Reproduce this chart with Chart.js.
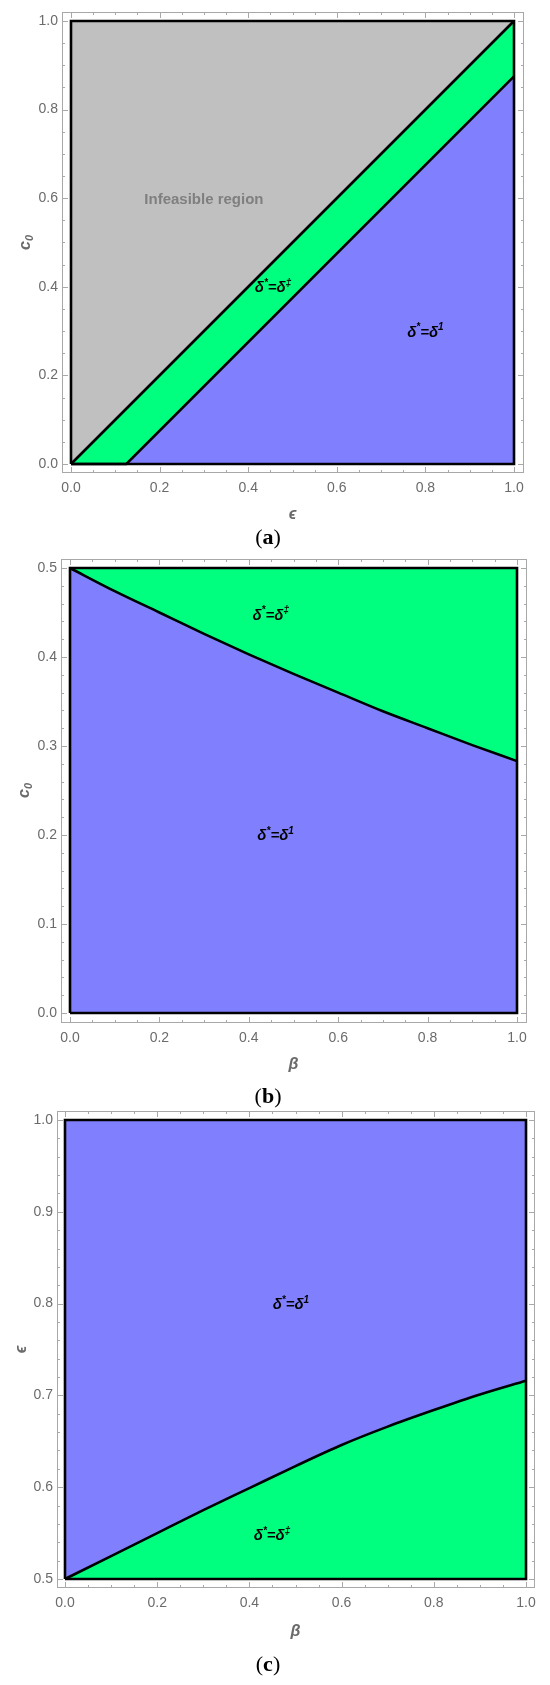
<!DOCTYPE html>
<html lang="en">
<head>
  <meta charset="UTF-8" />
  <title>Optimal delta regions</title>
  <script src="https://cdn.jsdelivr.net/npm/chart.js"></script>
  <style>
    body {
      margin: 0;
      background: #fff;
    }

    .page {
      position: relative;
      width: 550px;
      height: 1685px;
    }

    .page canvas {
      position: absolute;
      left: 0;
    }

    .caption {
      position: absolute;
      left: 168px;
      width: 200px;
      text-align: center;
      font-family: 'Liberation Serif', 'DejaVu Serif', serif;
      font-size: 22px;
      line-height: 24px;
      color: #000;
    }
  </style>
</head>
<body>
  <div class="page">
    <canvas id="chartA" width="550" height="530" style="top:0px"></canvas>
    <canvas id="chartB" width="550" height="540" style="top:545px"></canvas>
    <canvas id="chartC" width="550" height="560" style="top:1100px"></canvas>
    <div class="caption" style="top:525px">(<b>a</b>)</div>
    <div class="caption" style="top:1084px">(<b>b</b>)</div>
    <div class="caption" style="top:1652px">(<b>c</b>)</div>
  </div>

  <script>
    // (a) region boundaries in the (eps, c0) plane
    const aUpperEps = [0, 1];
    const aUpperC0 = [0, 1];
    const aLowerEps = [0, 0.125, 1];
    const aLowerC0 = [0, 0, 0.875];

    // (b) and (c) boundaries against beta
    const betaGrid = [0, 0.1, 0.2, 0.3, 0.4, 0.5, 0.6, 0.7, 0.8, 0.9, 1];
    const bBoundaryC0 = [0.5, 0.474, 0.450, 0.426, 0.403, 0.381, 0.360, 0.339, 0.320, 0.301, 0.283];
    const cBoundaryEps = [0.5, 0.525, 0.550, 0.575, 0.599, 0.623, 0.646, 0.666, 0.684, 0.701, 0.716];

    // tick labels
    const ticksUnit = [0, 0.2, 0.4, 0.6, 0.8, 1];
    const ticksBy = [0, 0.1, 0.2, 0.3, 0.4, 0.5];
    const ticksCy = [0.5, 0.6, 0.7, 0.8, 0.9, 1];

    // region labels
    const labelsA = [
      { text: 'Infeasible region', x: 0.30, y: 0.60 },
      { sup: '‡', x: 0.456, y: 0.40 },
      { sup: '1', x: 0.80, y: 0.30 }
    ];
    const labelsB = [
      { sup: '‡', x: 0.449, y: 0.448 },
      { sup: '1', x: 0.46, y: 0.20 }
    ];
    const labelsC = [
      { sup: '1', x: 0.49, y: 0.80 },
      { sup: '‡', x: 0.449, y: 0.548 }
    ];

    const GRAY = '#c0c0c0';
    const GREEN = '#00ff7f';
    const BLUE = '#8080ff';
    const TICK_COLOR = '#6b6b6b';
    const FRAME_COLOR = '#a8a8a8';
    const SANS = "'Liberation Sans', Arial, 'DejaVu Sans', sans-serif";

    const pts = (xs, ys) => xs.map((v, i) => ({ x: v, y: ys[i] }));
    const box = (x0, x1, y0, y1) => pts([x0, x1, x1, x0, x0], [y0, y0, y1, y1, y0]);

    const fillSet = (data, fill, color, smooth) => ({
      data, fill, backgroundColor: color, borderColor: 'transparent', borderWidth: 0,
      pointRadius: 0, cubicInterpolationMode: smooth ? 'monotone' : 'default', order: 3
    });
    const lineSet = (data, smooth) => ({
      data, fill: false, borderColor: '#000', borderWidth: 2.6,
      pointRadius: 0, cubicInterpolationMode: smooth ? 'monotone' : 'default', order: 1
    });

    // draw text pieces with sub/superscripts, centred on (cx, cy)
    function drawParts(ctx, parts, cx, cy, size, color, style, rotate) {
      const small = Math.round(size * 0.68);
      const fontOf = p => style + ' ' + (p.sup || p.sub ? small : size) + 'px ' + SANS;
      let total = 0;
      parts.forEach(p => { ctx.font = fontOf(p); total += ctx.measureText(p.t).width; });
      ctx.save();
      ctx.translate(cx, cy);
      if (rotate) ctx.rotate(-Math.PI / 2);
      ctx.fillStyle = color;
      ctx.textBaseline = 'alphabetic';
      ctx.textAlign = 'left';
      let x = -total / 2;
      const base = size * 0.36;
      parts.forEach(p => {
        ctx.font = fontOf(p);
        const dy = p.sup ? -size * 0.42 : (p.sub ? size * 0.22 : 0);
        ctx.fillText(p.t, x, base + dy);
        x += ctx.measureText(p.t).width;
      });
      ctx.restore();
    }

    const deltaParts = sup => [{ t: 'δ' }, { t: '*', sup: true }, { t: '=δ' }, { t: sup, sup: true }];

    function makeDecor(cfg) {
      return {
        id: 'decor',
        afterDatasetsDraw(chart) {
          const { ctx, chartArea: a, scales: { x, y } } = chart;
          ctx.save();
          ctx.strokeStyle = FRAME_COLOR;
          ctx.lineWidth = 1;
          ctx.strokeRect(a.left + 0.5, a.top + 0.5, a.right - a.left - 1, a.bottom - a.top - 1);

          const ticks = (lo, hi, step, every, draw) => {
            const n = Math.round((hi - lo) / step);
            for (let i = 0; i <= n; i++) draw(lo + i * step, i % every === 0 ? 6 : 3);
          };
          ctx.beginPath();
          ticks(cfg.xr[0], cfg.xr[1], cfg.xMinor, cfg.xEvery, (v, len) => {
            const px = Math.round(x.getPixelForValue(v)) + 0.5;
            ctx.moveTo(px, a.bottom); ctx.lineTo(px, a.bottom - len);
            ctx.moveTo(px, a.top); ctx.lineTo(px, a.top + len);
          });
          ticks(cfg.yr[0], cfg.yr[1], cfg.yMinor, cfg.yEvery, (v, len) => {
            const py = Math.round(y.getPixelForValue(v)) + 0.5;
            ctx.moveTo(a.left, py); ctx.lineTo(a.left + len, py);
            ctx.moveTo(a.right, py); ctx.lineTo(a.right - len, py);
          });
          ctx.stroke();
          ctx.restore();

          cfg.labels.forEach(l => {
            const px = x.getPixelForValue(l.x);
            const py = y.getPixelForValue(l.y);
            if (l.text) drawParts(ctx, [{ t: l.text }], px, py, 15, '#7f7f7f', 'bold', false);
            else drawParts(ctx, deltaParts(l.sup), px, py, 15, '#000', 'italic bold', false);
          });

          const midX = (x.getPixelForValue(cfg.xr[0]) + x.getPixelForValue(cfg.xr[1])) / 2;
          const midY = (y.getPixelForValue(cfg.yr[0]) + y.getPixelForValue(cfg.yr[1])) / 2;
          drawParts(ctx, cfg.xTitle, midX, cfg.xTitleY, 16, TICK_COLOR, 'italic bold', false);
          drawParts(ctx, cfg.yTitle, cfg.yTitleX, midY, 16, TICK_COLOR, 'italic bold', true);
        }
      };
    }

    function makePanel(id, cfg) {
      const canvas = document.getElementById(id);
      const H = canvas.height;
      const f = cfg.frame;
      const d = cfg.dataPx;
      const xs = (cfg.xr[1] - cfg.xr[0]) / (d.right - d.left);
      const ys = (cfg.yr[1] - cfg.yr[0]) / (d.bottom - d.top);
      const tickFont = { family: SANS, size: 14 };

      new Chart(canvas, {
        type: 'line',
        data: { datasets: cfg.datasets },
        options: {
          responsive: false,
          animation: false,
          events: [],
          layout: { autoPadding: false, padding: { left: 0, top: f.top, right: 550 - f.right, bottom: 0 } },
          plugins: { legend: { display: false }, tooltip: { enabled: false } },
          scales: {
            x: {
              type: 'linear',
              min: cfg.xr[0] - (d.left - f.left) * xs,
              max: cfg.xr[1] + (f.right - d.right) * xs,
              grid: { display: false, drawTicks: false },
              border: { display: false },
              ticks: { autoSkip: false, maxRotation: 0, padding: 7, color: TICK_COLOR, font: tickFont, callback: v => v.toFixed(1) },
              afterBuildTicks: s => { s.ticks = cfg.xTicks.map(v => ({ value: v })); },
              afterFit: s => { s.height = H - f.bottom; s.paddingLeft = 0; s.paddingRight = 0; }
            },
            y: {
              type: 'linear',
              min: cfg.yr[0] - (f.bottom - d.bottom) * ys,
              max: cfg.yr[1] + (d.top - f.top) * ys,
              grid: { display: false, drawTicks: false },
              border: { display: false },
              ticks: { autoSkip: false, padding: 4, color: TICK_COLOR, font: tickFont, callback: v => v.toFixed(1) },
              afterBuildTicks: s => { s.ticks = cfg.yTicks.map(v => ({ value: v })); },
              afterFit: s => { s.width = f.left; s.paddingTop = 0; s.paddingBottom = 0; }
            }
          }
        },
        plugins: [makeDecor(cfg)]
      });
    }

    // panel (a)
    const aUpper = pts(aUpperEps, aUpperC0);
    const aLower = pts(aLowerEps, aLowerC0);
    makePanel('chartA', {
      frame: { left: 62, top: 12, right: 524, bottom: 473 },
      dataPx: { left: 71, top: 21, right: 514, bottom: 464 },
      xr: [0, 1], yr: [0, 1],
      xTicks: ticksUnit, yTicks: ticksUnit,
      xMinor: 0.05, xEvery: 4, yMinor: 0.05, yEvery: 4,
      labels: labelsA,
      xTitle: [{ t: 'ϵ' }], xTitleY: 513,
      yTitle: [{ t: 'c' }, { t: '0', sub: true }], yTitleX: 24,
      datasets: [
        fillSet(aUpper, { value: 1 }, GRAY),
        fillSet(aLower, { value: 0 }, BLUE),
        fillSet(aUpper, 1, GREEN),
        lineSet(aUpper),
        lineSet(aLower),
        Object.assign(lineSet(box(0, 1, 0, 1)), { order: 0 })
      ]
    });

    // panel (b)
    const bCurve = pts(betaGrid, bBoundaryC0);
    makePanel('chartB', {
      frame: { left: 61, top: 14, right: 527, bottom: 478 },
      dataPx: { left: 70, top: 23, right: 517, bottom: 468 },
      xr: [0, 1], yr: [0, 0.5],
      xTicks: ticksUnit, yTicks: ticksBy,
      xMinor: 0.05, xEvery: 4, yMinor: 0.02, yEvery: 5,
      labels: labelsB,
      xTitle: [{ t: 'β' }], xTitleY: 518,
      yTitle: [{ t: 'c' }, { t: '0', sub: true }], yTitleX: 23,
      datasets: [
        fillSet(bCurve, { value: 0.5 }, GREEN, true),
        fillSet(bCurve, { value: 0 }, BLUE, true),
        lineSet(bCurve, true),
        Object.assign(lineSet(box(0, 1, 0, 0.5)), { order: 0 })
      ]
    });

    // panel (c)
    const cCurve = pts(betaGrid, cBoundaryEps);
    makePanel('chartC', {
      frame: { left: 57, top: 11, right: 535, bottom: 488 },
      dataPx: { left: 65, top: 20, right: 526, bottom: 479 },
      xr: [0, 1], yr: [0.5, 1],
      xTicks: ticksUnit, yTicks: ticksCy,
      xMinor: 0.05, xEvery: 4, yMinor: 0.02, yEvery: 5,
      labels: labelsC,
      xTitle: [{ t: 'β' }], xTitleY: 530,
      yTitle: [{ t: 'ϵ' }], yTitleX: 20,
      datasets: [
        fillSet(cCurve, { value: 1 }, BLUE, true),
        fillSet(cCurve, { value: 0.5 }, GREEN, true),
        lineSet(cCurve, true),
        Object.assign(lineSet(box(0, 1, 0.5, 1)), { order: 0 })
      ]
    });
  </script>
</body>
</html>
